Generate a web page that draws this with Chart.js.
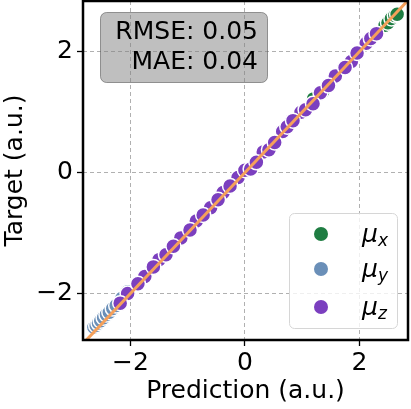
<!DOCTYPE html>
<html>
<head>
<meta charset="utf-8">
<script src="https://cdn.jsdelivr.net/npm/chart.js@4"></script>
<style>
html,body{margin:0;padding:0;background:#fff;}
#wrap{width:411px;height:409px;position:relative;}
</style>
</head>
<body>
<div id="wrap"><canvas id="c" width="411" height="409"></canvas></div>
<script>
// ---- data (prediction, target) ----
const muxPred   = [1.20, 1.36, 2.45, 2.50, 2.56, 2.62, 2.66];
const muxTarget = [1.22, 1.34, 2.44, 2.48, 2.55, 2.60, 2.62];

const muyPred   = [-2.64, -2.60, -2.56, -2.52, -2.47, -2.42, -2.37, -2.31, -2.25, -2.15, -2.05, -0.02];
const muyTarget = [-2.56, -2.53, -2.49, -2.45, -2.40, -2.35, -2.31, -2.25, -2.20, -2.08, -1.97, 0.02];

const muzPred = [-2.05, -1.75, -1.50, -1.38, -1.12, -0.85, -0.60, -0.38, -0.12, 0.00, 0.10, 0.32,
                 0.42, 0.66, 0.74, 0.98, 1.06, 1.32, 1.58, 1.86, 2.12, 2.20,
                 -2.18, -1.87, -1.60, -1.25, -0.96, -0.73, -0.47, -0.26, 0.20, 0.52,
                 0.84, 1.19, 1.46, 1.75, 1.96, 2.30];
const muzTarget = [-2.00, -1.72, -1.44, -1.36, -1.08, -0.80, -0.58, -0.33, -0.08, 0.04, 0.06, 0.34,
                   0.38, 0.68, 0.76, 1.00, 1.04, 1.32, 1.60, 1.84, 2.14, 2.22,
                   -2.16, -1.84, -1.56, -1.22, -0.95, -0.70, -0.45, -0.22, 0.17, 0.50,
                   0.86, 1.14, 1.44, 1.74, 1.98, 2.30];

const seriesLabels = ['μx', 'μy', 'μz'];
const tickValues = [-2, 0, 2];
const tickLabels = ['−2', '0', '2'];
const metricLines = ['RMSE: 0.05', 'MAE: 0.04'];
const xTitle = 'Prediction (a.u.)';
const yTitle = 'Target (a.u.)';
const axisMin = {x: -2.83, y: -2.77};
const axisMax = {x: 2.85, y: 2.84};

const COLORS = ['#1f7d42', '#6a8fb8', '#7b3fbf'];
const LINE_COLOR = '#f5a05a';
const FONT = "'DejaVu Sans', sans-serif";

function pts(xs, ys){ return xs.map((x,i)=>({x:x, y:ys[i]})); }
const diag = [{x: -3, y: -3}, {x: 3, y: 3}];

const scatterStyle = (c) => ({
  backgroundColor: c, borderColor: '#ffffff', borderWidth: 1.5,
  pointRadius: 7.5, pointHoverRadius: 7.5
});

const framePlugin = {
  id: 'frameAndBoxes',
  afterDatasetsDraw(chart) {
    const ctx = chart.ctx, a = chart.chartArea;
    ctx.save();
    // frame
    ctx.lineWidth = 2.5;
    ctx.strokeStyle = '#000';
    ctx.strokeRect(a.left, a.top, a.right - a.left, a.bottom - a.top);

    // metrics box
    ctx.beginPath();
    ctx.roundRect(100.5, 12.5, 167, 70, 6);
    ctx.fillStyle = 'rgba(128,128,128,0.5)';
    ctx.fill();
    ctx.lineWidth = 1;
    ctx.strokeStyle = 'rgba(90,90,90,0.6)';
    ctx.stroke();
    ctx.fillStyle = '#000';
    ctx.font = '25px ' + FONT;
    ctx.textAlign = 'right';
    ctx.textBaseline = 'middle';
    ctx.fillText(metricLines[0], 258, 32);
    ctx.fillText(metricLines[1], 258, 62);

    // legend box
    ctx.beginPath();
    ctx.roundRect(289.5, 213.5, 108, 115, 5);
    ctx.fillStyle = 'rgba(255,255,255,0.8)';
    ctx.fill();
    ctx.strokeStyle = '#d6d6d6';
    ctx.lineWidth = 1;
    ctx.stroke();
    const ys = [234, 269, 307];
    chart.data.datasets.slice(0, 3).forEach((ds, i) => {
      ctx.beginPath();
      ctx.arc(321, ys[i], 7, 0, Math.PI * 2);
      ctx.fillStyle = ds.backgroundColor;
      ctx.fill();
      const lab = ds.label;
      ctx.fillStyle = '#000';
      ctx.textAlign = 'left';
      ctx.textBaseline = 'alphabetic';
      ctx.font = 'italic 25px ' + FONT;
      ctx.fillText(lab.charAt(0), 362, ys[i] + 8);
      const w = ctx.measureText(lab.charAt(0)).width;
      ctx.font = 'italic 17px ' + FONT;
      ctx.fillText(lab.slice(1), 362 + w, ys[i] + 12);
    });
    ctx.restore();
  }
};

function fixTicks(scale){ scale.ticks = tickValues.map(v => ({value: v})); }

new Chart(document.getElementById('c'), {
  type: 'scatter',
  data: {
    datasets: [
      Object.assign({label: seriesLabels[0], data: pts(muxPred, muxTarget), order: 4}, scatterStyle(COLORS[0])),
      Object.assign({label: seriesLabels[1], data: pts(muyPred, muyTarget), order: 3}, scatterStyle(COLORS[1])),
      Object.assign({label: seriesLabels[2], data: pts(muzPred, muzTarget), order: 2}, scatterStyle(COLORS[2])),
      {type: 'line', label: 'y=x', data: diag, showLine: true, borderColor: LINE_COLOR,
       borderWidth: 3, pointRadius: 0, pointHoverRadius: 0, fill: false, clip: 0, order: 1}
    ]
  },
  options: {
    responsive: false,
    animation: false,
    events: [],
    layout: {autoPadding: false, padding: {top: 1, right: 3, left: 0, bottom: 0}},
    plugins: {legend: {display: false}, tooltip: {enabled: false}},
    scales: {
      x: {
        type: 'linear', min: axisMin.x, max: axisMax.x,
        afterBuildTicks: fixTicks,
        afterFit(s){ s.height = 69; s.paddingLeft = 0; s.paddingRight = 0; },
        border: {display: false, dash: [4, 3]},
        grid: {color: '#b0b0b0', lineWidth: 1, drawTicks: true,
               tickLength: 6, tickColor: '#000', tickWidth: 1.3, tickBorderDash: []},
        ticks: {color: '#000', font: {family: FONT, size: 25}, padding: 2, maxRotation: 0,
                callback: (v) => tickLabels[tickValues.indexOf(v)]},
        title: {display: true, text: xTitle, color: '#000', font: {family: FONT, size: 25},
                padding: {top: 0, bottom: 3}}
      },
      y: {
        type: 'linear', min: axisMin.y, max: axisMax.y,
        afterBuildTicks: fixTicks,
        afterFit(s){ s.width = 83; s.paddingTop = 0; s.paddingBottom = 0; },
        border: {display: false, dash: [4, 3]},
        grid: {color: '#b0b0b0', lineWidth: 1, drawTicks: true,
               tickLength: 6, tickColor: '#000', tickWidth: 1.3, tickBorderDash: []},
        ticks: {color: '#000', font: {family: FONT, size: 25}, padding: 4,
                callback: (v) => tickLabels[tickValues.indexOf(v)]},
        title: {display: true, text: yTitle, color: '#000', font: {family: FONT, size: 25},
                padding: {top: 0, bottom: 0}}
      }
    }
  },
  plugins: [framePlugin]
});
</script>
</body>
</html>
